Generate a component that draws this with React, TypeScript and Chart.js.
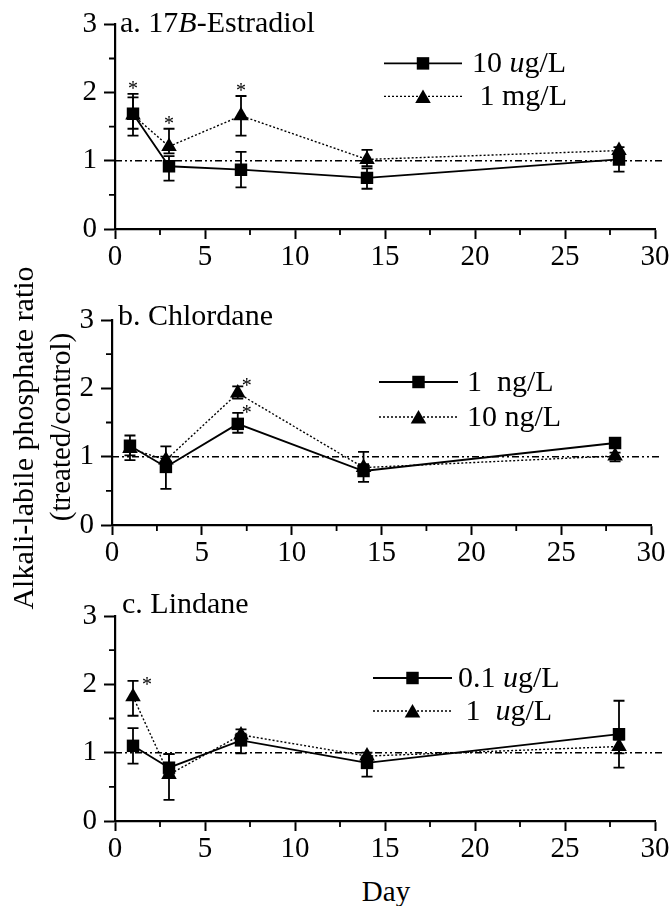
import React, { useEffect, useRef } from "react";
import { Chart, registerables } from "chart.js";

Chart.register(...registerables);

// ---------------- data ----------------
const days = [1, 3, 7, 14, 28];
const xTickStep = 2.5;
const xLabelEvery = 5;
const yTickStep = 0.5;
const controlRatio = 1;

const panelTitles = ["a. 17{B}-Estradiol", "b. Chlordane", "c. Lindane"];

// a. 17B-Estradiol
const estLabels = ["10 {u}g/L", " 1 mg/L"];
const estLowVals = [1.69, 0.92, 0.87, 0.75, 1.02];
const estLowUp = [0.24, 0.15, 0.26, 0.14, 0.1];
const estLowDn = [0.22, 0.21, 0.26, 0.16, 0.18];
const estLowSig = [0, 0, 0, 0, 0];
const estHighVals = [1.67, 1.21, 1.66, 1.02, 1.15];
const estHighUp = [0.31, 0.26, 0.29, 0.14, 0.05];
const estHighDn = [0.3, 0.1, 0.29, 0.1, 0.05];
const estHighSig = [1, 1, 1, 0, 0];

// b. Chlordane
const chlLabels = ["1  ng/L", "10 ng/L"];
const chlLowVals = [1.16, 0.85, 1.48, 0.79, 1.2];
const chlLowUp = [0.15, 0.15, 0.16, 0.1, 0.03];
const chlLowDn = [0.21, 0.32, 0.13, 0.16, 0.03];
const chlLowSig = [0, 0, 1, 0, 0];
const chlHighVals = [1.12, 0.95, 1.93, 0.84, 1.01];
const chlHighUp = [0.1, 0.2, 0.1, 0.23, 0.05];
const chlHighDn = [0.1, 0.1, 0.08, 0.1, 0.08];
const chlHighSig = [0, 0, 1, 0, 0];

// c. Lindane
const linLabels = ["0.1 {u}g/L", " 1  {u}g/L"];
const linLowVals = [1.1, 0.78, 1.18, 0.85, 1.27];
const linLowUp = [0.26, 0.2, 0.1, 0.1, 0.49];
const linLowDn = [0.26, 0.1, 0.19, 0.2, 0.49];
const linLowSig = [0, 0, 0, 0, 0];
const linHighVals = [1.82, 0.68, 1.26, 0.95, 1.09];
const linHighUp = [0.23, 0.3, 0.08, 0.05, 0.1];
const linHighDn = [0.28, 0.37, 0.1, 0.1, 0.1];
const linHighSig = [1, 0, 0, 0, 0];

// ---------------- styles / layout ----------------
const FONT = "'Liberation Serif', 'Times New Roman', serif";
const W = 671;
const TEXT_SIZE = 30;
const TICK_SIZE = 29;

type Series = { vals: number[]; up: number[]; dn: number[]; sig: number[] };
type PanelCfg = {
  title: string;
  labels: string[];
  low: Series;
  high: Series;
  top: number;
  height: number;
  area: { left: number; right: number; top: number; bottom: number };
  titleDx: number;
  titleDy: number;
  legend: { dx: number; dy: number; rowGap: number; lineLen: number; textGap: number };
  star: { dx: number; dy: number };
};

const panels: PanelCfg[] = [
  {
    title: panelTitles[0],
    labels: estLabels,
    low: { vals: estLowVals, up: estLowUp, dn: estLowDn, sig: estLowSig },
    high: { vals: estHighVals, up: estHighUp, dn: estHighDn, sig: estHighSig },
    top: 0,
    height: 275,
    area: { left: 115, right: 655, top: 23, bottom: 229 },
    titleDx: 5,
    titleDy: 8,
    legend: { dx: 269, dy: 39, rowGap: 33, lineLen: 78, textGap: 10 },
    star: { dx: 0, dy: -9 },
  },
  {
    title: panelTitles[1],
    labels: chlLabels,
    low: { vals: chlLowVals, up: chlLowUp, dn: chlLowDn, sig: chlLowSig },
    high: { vals: chlHighVals, up: chlHighUp, dn: chlHighDn, sig: chlHighSig },
    top: 275,
    height: 295,
    area: { left: 112, right: 651, top: 45, bottom: 250 },
    titleDx: 6,
    titleDy: 5,
    legend: { dx: 267, dy: 62, rowGap: 35, lineLen: 79, textGap: 9 },
    star: { dx: 9, dy: -4 },
  },
  {
    title: panelTitles[2],
    labels: linLabels,
    low: { vals: linLowVals, up: linLowUp, dn: linLowDn, sig: linLowSig },
    high: { vals: linHighVals, up: linHighUp, dn: linHighDn, sig: linHighSig },
    top: 570,
    height: 300,
    area: { left: 115, right: 655, top: 46, bottom: 251 },
    titleDx: 7,
    titleDy: -3,
    legend: { dx: 258, dy: 62, rowGap: 33, lineLen: 79, textGap: 6 },
    star: { dx: 14, dy: 0 },
  },
];

const SQ_R = 8.8;
const TRI_R = 9;
const LOW_DASH: number[] = [];
const HIGH_DASH = [2, 2];

function drawRich(ctx: CanvasRenderingContext2D, text: string, x: number, y: number, size: number) {
  const parts = text.split(/(\{[^}]*\})/).filter((s) => s.length > 0);
  let cx = x;
  ctx.textAlign = "left";
  ctx.textBaseline = "alphabetic";
  for (const part of parts) {
    const italic = part.startsWith("{");
    const t = italic ? part.slice(1, -1) : part;
    ctx.font = `${italic ? "italic " : ""}${size}px ${FONT}`;
    ctx.fillText(t, cx, y);
    cx += ctx.measureText(t).width;
  }
}

function drawSquare(ctx: CanvasRenderingContext2D, x: number, y: number, r: number) {
  const s = Math.SQRT1_2 * r;
  ctx.fillRect(x - s, y - s, 2 * s, 2 * s);
}

function drawTriangle(ctx: CanvasRenderingContext2D, x: number, y: number, r: number) {
  ctx.beginPath();
  ctx.moveTo(x, y - r);
  ctx.lineTo(x + r * Math.sin((2 * Math.PI) / 3), y + r / 2);
  ctx.lineTo(x - r * Math.sin((2 * Math.PI) / 3), y + r / 2);
  ctx.closePath();
  ctx.fill();
}

function makePlugin(p: PanelCfg) {
  return {
    id: "decor",
    beforeDatasetsDraw(chart: any) {
      const { ctx } = chart;
      const xs = chart.scales.x;
      const ys = chart.scales.y;
      ctx.save();
      ctx.strokeStyle = "#000";
      // control reference line
      ctx.lineWidth = 1.5;
      ctx.setLineDash([7, 3, 2, 3, 2, 3]);
      ctx.beginPath();
      const yr = ys.getPixelForValue(controlRatio);
      ctx.moveTo(xs.getPixelForValue(xs.min), yr);
      ctx.lineTo(xs.getPixelForValue(xs.max) + 8, yr);
      ctx.stroke();
      ctx.setLineDash([]);
      // error bars
      ctx.lineWidth = 1.8;
      [p.low, p.high].forEach((s) => {
        days.forEach((d, i) => {
          const px = xs.getPixelForValue(d);
          const v = s.vals[i];
          const mid = ys.getPixelForValue(v);
          ctx.beginPath();
          if (s.up[i] > 0) {
            const t = ys.getPixelForValue(v + s.up[i]);
            ctx.moveTo(px, mid);
            ctx.lineTo(px, t);
            ctx.moveTo(px - 5.5, t);
            ctx.lineTo(px + 5.5, t);
          }
          if (s.dn[i] > 0) {
            const b = ys.getPixelForValue(v - s.dn[i]);
            ctx.moveTo(px, mid);
            ctx.lineTo(px, b);
            ctx.moveTo(px - 5.5, b);
            ctx.lineTo(px + 5.5, b);
          }
          ctx.stroke();
        });
      });
      ctx.restore();
    },
    afterDatasetsDraw(chart: any) {
      const { ctx, chartArea } = chart;
      const xs = chart.scales.x;
      const ys = chart.scales.y;
      ctx.save();
      ctx.fillStyle = "#000";
      ctx.strokeStyle = "#000";
      // significance stars
      ctx.font = `20px ${FONT}`;
      ctx.textAlign = "center";
      ctx.textBaseline = "alphabetic";
      [p.low, p.high].forEach((s) => {
        days.forEach((d, i) => {
          if (!s.sig[i]) return;
          const px = xs.getPixelForValue(d) + p.star.dx;
          const py = ys.getPixelForValue(s.vals[i] + s.up[i]) + p.star.dy;
          ctx.fillText("*", px, py + 10);
        });
      });
      // panel title
      drawRich(ctx, p.title, chartArea.left + p.titleDx, chartArea.top + p.titleDy, TEXT_SIZE);
      // legend
      const lg = p.legend;
      const x1 = chartArea.left + lg.dx;
      const x2 = x1 + lg.lineLen;
      const xm = (x1 + x2) / 2;
      [0, 1].forEach((k) => {
        const ry = chartArea.top + lg.dy + k * lg.rowGap;
        ctx.lineWidth = k === 0 ? 1.8 : 1.4;
        ctx.setLineDash(k === 0 ? LOW_DASH : HIGH_DASH);
        ctx.beginPath();
        ctx.moveTo(x1, ry);
        ctx.lineTo(x2, ry);
        ctx.stroke();
        ctx.setLineDash([]);
        if (k === 0) drawSquare(ctx, xm, ry, SQ_R);
        else drawTriangle(ctx, xm, ry + 2, TRI_R);
        drawRich(ctx, p.labels[k], x2 + lg.textGap, ry + 9, TEXT_SIZE);
      });
      // minor ticks
      ctx.lineWidth = 1.8;
      ctx.beginPath();
      for (let v = xTickStep; v < xs.max; v += xTickStep * 2) {
        const px = xs.getPixelForValue(v);
        ctx.moveTo(px, chartArea.bottom);
        ctx.lineTo(px, chartArea.bottom + 6);
      }
      for (let v = yTickStep; v < ys.max; v += yTickStep * 2) {
        const py = ys.getPixelForValue(v);
        ctx.moveTo(chartArea.left, py);
        ctx.lineTo(chartArea.left - 6, py);
      }
      ctx.stroke();
      ctx.restore();
    },
  };
}

function Panel({ cfg }: { cfg: PanelCfg }) {
  const ref = useRef<HTMLCanvasElement | null>(null);
  useEffect(() => {
    if (!ref.current) return;
    const a = cfg.area;
    const tickFont = { family: FONT, size: TICK_SIZE };
    const chart = new Chart(ref.current, {
      type: "line",
      data: {
        datasets: [
          {
            label: cfg.labels[0],
            data: days.map((d, i) => ({ x: d, y: cfg.low.vals[i] })),
            borderColor: "#000",
            backgroundColor: "#000",
            borderWidth: 1.8,
            borderDash: LOW_DASH,
            pointStyle: "rect",
            pointRadius: SQ_R,
            pointBorderWidth: 0,
            pointBackgroundColor: "#000",
            tension: 0,
          },
          {
            label: cfg.labels[1],
            data: days.map((d, i) => ({ x: d, y: cfg.high.vals[i] })),
            borderColor: "#000",
            backgroundColor: "#000",
            borderWidth: 1.4,
            borderDash: HIGH_DASH,
            pointStyle: "triangle",
            pointRadius: TRI_R,
            pointBorderWidth: 0,
            pointBackgroundColor: "#000",
            tension: 0,
          },
        ],
      } as any,
      options: {
        responsive: false,
        animation: false,
        devicePixelRatio: 1,
        layout: { padding: { top: a.top, right: W - a.right, bottom: 0, left: 0 } },
        plugins: { legend: { display: false }, tooltip: { enabled: false } },
        scales: {
          x: {
            type: "linear",
            min: 0,
            max: 30,
            ticks: {
              stepSize: xTickStep,
              autoSkip: false,
              maxRotation: 0,
              color: "#000",
              font: tickFont,
              padding: 1,
              callback: (v: any) => (Number(v) % xLabelEvery === 0 ? String(v) : ""),
            },
            grid: {
              drawOnChartArea: false,
              tickLength: 10,
              tickWidth: 2,
              tickColor: (c: any) =>
                c.tick && Number(c.tick.value) % xLabelEvery === 0 ? "#000" : "rgba(0,0,0,0)",
            },
            border: { color: "#000", width: 2.2 },
            afterFit: (s: any) => {
              s.height = cfg.height - a.bottom;
            },
          },
          y: {
            min: 0,
            max: 3,
            ticks: {
              stepSize: yTickStep,
              color: "#000",
              font: tickFont,
              padding: 7,
              callback: (v: any) => (Number(v) % 1 === 0 ? String(v) : ""),
            },
            grid: {
              drawOnChartArea: false,
              tickLength: 11,
              tickWidth: 2,
              tickColor: (c: any) =>
                c.tick && Number(c.tick.value) % 1 === 0 ? "#000" : "rgba(0,0,0,0)",
            },
            border: { color: "#000", width: 2.2 },
            afterFit: (s: any) => {
              s.width = a.left;
            },
          },
        },
      } as any,
      plugins: [makePlugin(cfg) as any],
    });
    return () => chart.destroy();
  }, [cfg]);
  return (
    <canvas
      ref={ref}
      width={W}
      height={cfg.height}
      style={{ position: "absolute", left: 0, top: cfg.top, width: W, height: cfg.height, display: "block" }}
    />
  );
}

export default function App() {
  return (
    <div
      style={{
        position: "absolute",
        left: 0,
        top: 0,
        width: W,
        height: 906,
        background: "#fff",
        overflow: "hidden",
        fontFamily: FONT,
        color: "#000",
      }}
    >
      {panels.map((p, i) => (
        <Panel key={i} cfg={p} />
      ))}
      <div
        style={{
          position: "absolute",
          left: 23,
          top: 438,
          transform: "translate(-50%, -50%) rotate(-90deg)",
          whiteSpace: "pre",
          fontSize: 30,
          lineHeight: 1,
        }}
      >
        Alkali-labile phosphate ratio
      </div>
      <div
        style={{
          position: "absolute",
          left: 60,
          top: 427,
          transform: "translate(-50%, -50%) rotate(-90deg)",
          whiteSpace: "pre",
          fontSize: 29,
          lineHeight: 1,
        }}
      >
        (treated/control)
      </div>
      <div
        style={{
          position: "absolute",
          left: 386,
          top: 891,
          transform: "translate(-50%, -50%)",
          whiteSpace: "pre",
          fontSize: 29,
          lineHeight: 1,
        }}
      >
        Day
      </div>
    </div>
  );
}
